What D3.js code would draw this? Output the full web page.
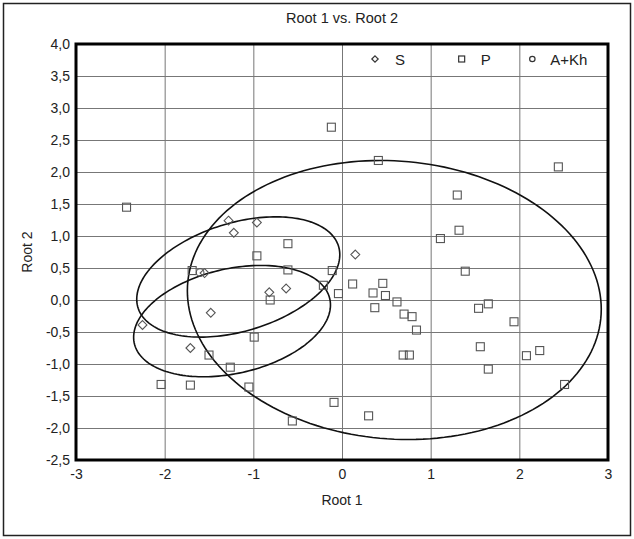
<!DOCTYPE html>
<html>
<head>
<meta charset="utf-8">
<script src="https://cdn.jsdelivr.net/npm/d3@7"></script>
<style>
body { margin:0; background:#fff; }
svg { font-family: "Liberation Sans", Arial, sans-serif; }
</style>
</head>
<body>
<script>
// group S (diamonds)
var sX = [-1.28, -0.96, -1.22, 0.15, -1.55, -0.82, -0.63, -1.48, -2.25, -1.71];
var sY = [1.24, 1.21, 1.05, 0.71, 0.42, 0.12, 0.18, -0.20, -0.39, -0.75];

// group P (squares)
var pX = [-2.43, -0.61, -0.96, -1.69, -0.61, -0.11, -0.21, -0.04, 0.12, -0.81,
          0.35, 0.37, -0.99, -1.50, -1.26, -2.04, -1.71, -1.05, -0.09, -0.56,
          0.30, 0.46, 0.49, 0.62, 0.70, 0.79, 0.84, 0.69, 0.76, 1.11,
          1.32, 1.39, 1.54, 1.65, 2.44, 1.30, 1.94, 1.56, 2.23, 2.08,
          1.65, 2.51, -0.12, 0.41];
var pY = [1.45, 0.88, 0.69, 0.46, 0.47, 0.46, 0.23, 0.10, 0.25, 0.00,
          0.11, -0.12, -0.58, -0.86, -1.05, -1.32, -1.33, -1.36, -1.60, -1.89,
          -1.81, 0.26, 0.07, -0.03, -0.22, -0.26, -0.47, -0.86, -0.86, 0.96,
          1.09, 0.45, -0.13, -0.06, 2.08, 1.64, -0.34, -0.73, -0.79, -0.87,
          -1.08, -1.32, 2.70, 2.18];

// group A+Kh (circles)
var aX = [-1.60];
var aY = [0.43];

// ellipses: centre, half-width, half-height, correlation
var ellCx = [-1.17, -1.24, 0.59];
var ellCy = [0.36, -0.33, 0.00];
var ellRx = [1.145, 1.11, 2.334];
var ellRy = [0.94, 0.87, 2.18];
var ellR = [0.37, 0.29, -0.066];

var xTicks = [-3, -2, -1, 0, 1, 2, 3];
var yTicks = [-2.5, -2, -1.5, -1, -0.5, 0, 0.5, 1, 1.5, 2, 2.5, 3, 3.5, 4];
var legendNames = ["S", "P", "A+Kh"];
var legendCell = [0, 1, 2];

var margin = {top:44, left:76, right:26, bottom:79};
var W = 634, H = 539;
var width = W - margin.left - margin.right;
var height = H - margin.top - margin.bottom;

var x = d3.scaleLinear().domain([-3, 3]).range([0, width]);
var y = d3.scaleLinear().domain([-2.5, 4]).range([height, 0]);

var svg = d3.select("body").append("svg").attr("width", W).attr("height", H);

svg.append("rect").attr("x", 3.5).attr("y", 3.5).attr("width", 627).attr("height", 532)
    .attr("fill", "none").attr("stroke", "#222").attr("stroke-width", 1.5);

svg.append("text").attr("x", margin.left + width / 2).attr("y", 23)
    .attr("text-anchor", "middle").attr("font-size", 14.5).attr("fill", "#222")
    .text("Root 1 vs. Root 2");

var g = svg.append("g").attr("transform", "translate(" + margin.left + "," + margin.top + ")");

// grid
g.append("g").attr("class", "grid").attr("transform", "translate(0," + height + ")")
    .call(d3.axisBottom(x).tickValues(xTicks).tickSize(-height).tickFormat(""))
    .call(function(s) { s.select(".domain").remove(); s.selectAll("line").attr("stroke", "#777"); });
g.append("g").attr("class", "grid")
    .call(d3.axisLeft(y).tickValues(yTicks).tickSize(-width).tickFormat(""))
    .call(function(s) { s.select(".domain").remove(); s.selectAll("line").attr("stroke", "#777"); });

// tick labels
var fmtY = function(d) { return d3.format(".1f")(d).replace("−", "-").replace(".", ","); };
var fmtX = function(d) { return String(d); };
g.append("g").attr("transform", "translate(0," + height + ")")
    .call(d3.axisBottom(x).tickValues(xTicks).tickSize(0).tickPadding(9).tickFormat(fmtX))
    .call(function(s) { s.select(".domain").remove(); s.selectAll("text").attr("font-size", 14).attr("fill", "#222").attr("font-family", "Liberation Sans, Arial, sans-serif"); });
g.append("g")
    .call(d3.axisLeft(y).tickValues(yTicks).tickSize(0).tickPadding(6).tickFormat(fmtY))
    .call(function(s) { s.select(".domain").remove(); s.selectAll("text").attr("font-size", 14).attr("fill", "#222").attr("font-family", "Liberation Sans, Arial, sans-serif"); });

// axis titles
svg.append("text").attr("x", margin.left + width / 2).attr("y", 505)
    .attr("text-anchor", "middle").attr("font-size", 14).attr("fill", "#222").text("Root 1");
svg.append("text").attr("transform", "translate(32," + (margin.top + height / 2) + ") rotate(-90)")
    .attr("text-anchor", "middle").attr("font-size", 14).attr("fill", "#222").text("Root 2");

// ellipses
var line = d3.line().x(function(d) { return x(d[0]); }).y(function(d) { return y(d[1]); }).curve(d3.curveLinearClosed);
var ellIdx = d3.range(ellCx.length);
g.selectAll(".ell").data(ellIdx).enter().append("path").attr("class", "ell")
    .attr("d", function(i) {
        var pts = d3.range(0, 360, 2).map(function(a) {
            var t = a * Math.PI / 180;
            return [ellCx[i] + ellRx[i] * Math.cos(t),
                    ellCy[i] + ellRy[i] * (ellR[i] * Math.cos(t) + Math.sqrt(1 - ellR[i] * ellR[i]) * Math.sin(t))];
        });
        return line(pts);
    })
    .attr("fill", "none").attr("stroke", "#111").attr("stroke-width", 1.6);

var mk = "#555";
// squares
g.selectAll(".p").data(d3.range(pX.length)).enter().append("rect").attr("class", "p")
    .attr("x", function(i) { return x(pX[i]) - 4; })
    .attr("y", function(i) { return y(pY[i]) - 4; })
    .attr("width", 8).attr("height", 8)
    .attr("fill", "none").attr("stroke", mk).attr("stroke-width", 1.1);

// diamonds
var diamond = d3.symbol().type(d3.symbolDiamond2).size(50);
g.selectAll(".s").data(d3.range(sX.length)).enter().append("path").attr("class", "s")
    .attr("transform", function(i) { return "translate(" + x(sX[i]) + "," + y(sY[i]) + ")"; })
    .attr("d", diamond).attr("fill", "none").attr("stroke", mk).attr("stroke-width", 1.1);

// circles
g.selectAll(".a").data(d3.range(aX.length)).enter().append("circle").attr("class", "a")
    .attr("cx", function(i) { return x(aX[i]); })
    .attr("cy", function(i) { return y(aY[i]); })
    .attr("r", 3.8).attr("fill", "none").attr("stroke", mk).attr("stroke-width", 1.1);

// plot frame
g.append("rect").attr("width", width).attr("height", height)
    .attr("fill", "none").attr("stroke", "#000").attr("stroke-width", 3);

// legend, in the top row of cells (marker offset, text offset from cell edge)
var legMark = [33, 31, 13];
var legText = [53, 50, 31];
var leg = g.selectAll(".leg").data(legendNames).enter().append("g").attr("class", "leg")
    .attr("transform", function(d, i) { return "translate(" + x(legendCell[i]) + "," + (y(3.75) - 1) + ")"; });
leg.each(function(d, i) {
    var s = d3.select(this);
    var m = s.append("g").attr("transform", "translate(" + legMark[i] + ",0)");
    if (i == 0) m.append("path").attr("d", d3.symbol().type(d3.symbolDiamond2).size(26)).attr("fill", "none").attr("stroke", "#333").attr("stroke-width", 1.2);
    if (i == 1) m.append("rect").attr("x", -3).attr("y", -3).attr("width", 6).attr("height", 6).attr("fill", "none").attr("stroke", "#333").attr("stroke-width", 1.2);
    if (i == 2) m.append("circle").attr("r", 2.7).attr("fill", "none").attr("stroke", "#333").attr("stroke-width", 1.2);
    s.append("text").attr("x", legText[i]).attr("y", 5.5).attr("font-size", 15).attr("fill", "#222").text(d);
});
</script>
</body>
</html>
